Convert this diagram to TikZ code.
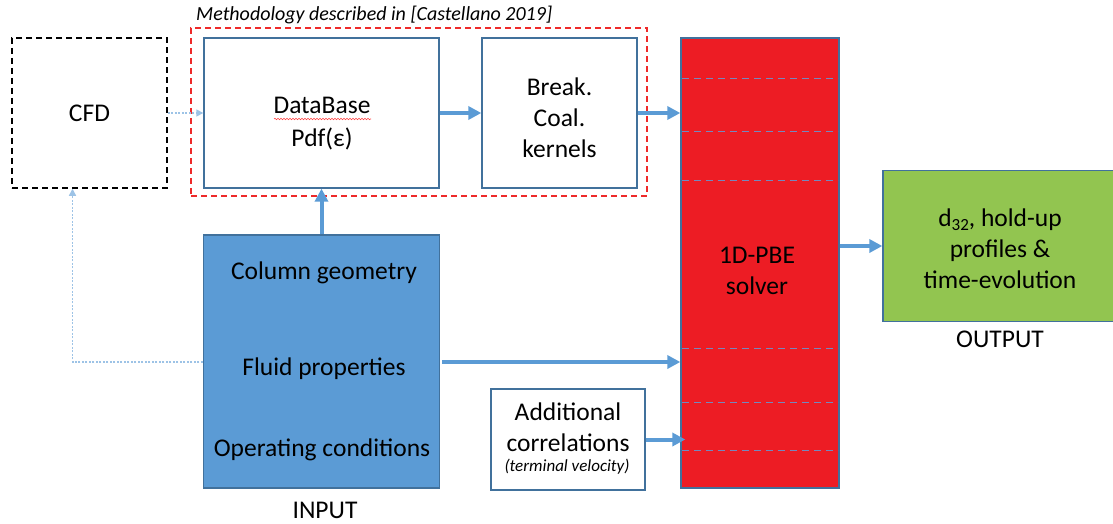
\documentclass[tikz,border=0pt]{standalone}
\usepackage{fontspec}
\setmainfont{Carlito}
\usetikzlibrary{arrows.meta,decorations.pathmorphing}
\definecolor{bblue}{HTML}{5B9BD5}
\definecolor{bborder}{HTML}{41719C}
\definecolor{sred}{HTML}{ED1C24}
\definecolor{ogreen}{HTML}{92C550}
\definecolor{lblue}{HTML}{9DC3E6}
\definecolor{fred}{HTML}{EE2A2A}
\definecolor{sdash}{HTML}{7588BE}
\tikzset{
  box/.style={draw=bborder, line width=1.3pt, rectangle, inner sep=0pt},
  txt/.style={font=\fontsize{25.5}{31}\selectfont, align=center, inner sep=0pt},
  bigarrow/.style={draw=bblue, line width=4pt, -{Triangle[length=13pt,width=13pt]}},
  dotarrow/.style={draw=lblue, line width=1.3pt, dash pattern=on 2pt off 1.5pt, -{Triangle[length=7pt,width=7pt]}},
  soldash/.style={draw=sdash, line width=1pt, dash pattern=on 7pt off 5pt},
}
\begin{document}
\begin{tikzpicture}[x=1pt,y=-1pt]
\useasboundingbox (0,0) rectangle (1113,524);
% methodology frame
\node[draw=fred, line width=1.5pt, dash pattern=on 6pt off 4pt, minimum width=456pt, minimum height=168pt, inner sep=0pt] (meth) at (419,112) {};
\node[font=\fontsize{20}{24}\selectfont\itshape, anchor=west, inner sep=0pt] (mtitle) at (196,15) {Methodology described in [Castellano 2019]};
% CFD
\node[box, draw=black, line width=1.5pt, dash pattern=on 6pt off 4pt, minimum width=155pt, minimum height=150pt] (cfd) at (89.5,113) {};
\node[txt] (cfdt) at (cfd) {CFD};
% DataBase
\node[box, minimum width=235pt, minimum height=150pt] (dbb) at (321.5,113) {};
\node[txt, font=\fontsize{25.5}{33}\selectfont] (dbt) at (322,124) {DataBase\\Pdf(ε)};
\draw[red!75, line width=0.6pt, decorate, decoration={snake, amplitude=0.7pt, segment length=3pt}] (274,119) -- (371,119);
% Break
\node[box, minimum width=155pt, minimum height=150pt] (brk) at (559.5,113) {};
\node[txt] (brkt) at (559.5,118) {Break.\\Coal.\\kernels};
% solver
\node[box, fill=sred, minimum width=158pt, minimum height=450pt] (sol) at (760,263) {};
\foreach \yy in {79,132,180,348,402,450}
  \draw[soldash] (682,\yy) -- (838,\yy);
\node[txt] (solt) at (757,271) {1D-PBE\\solver};
% output
\node[box, fill=ogreen, minimum width=232pt, minimum height=151pt] (out) at (999,246) {};
\node[txt] (outt) at (1000,249) {d{\fontsize{17}{17}\selectfont\raisebox{-4pt}{32}}, hold-up\\profiles \&\\time-evolution};
\node[txt] (outl) at (1000,339) {OUTPUT};
% input
\node[box, fill=bblue, minimum width=236pt, minimum height=253pt] (inp) at (321.5,361.5) {};
\node[txt] (cg) at (324,273) {Column geometry};
\node[txt] (fp) at (324,369) {Fluid properties};
\node[txt] (oc) at (322,450) {Operating conditions};
\node[txt] (inl) at (325,510) {INPUT};
\coordinate (fpy) at (321.5,362);
% additional
\node[box, minimum width=154pt, minimum height=101pt] (add) at (568,439.5) {};
\node[txt] (addt) at (568,427) {Additional\\correlations};
\node[font=\fontsize{17}{20}\selectfont\itshape, inner sep=0pt] (tv) at (567,467) {(terminal velocity)};
% arrows
\draw[bigarrow] (dbb.east) -- (brk.west);
\draw[bigarrow] (brk.east) -- (brk.east -| sol.west);
\draw[bigarrow] (inp.north) -- (dbb.south);
\draw[bigarrow] (sol.east |- out.west) -- (out.west);
\draw[bigarrow] ([xshift=2pt]inp.east |- fpy) -- (sol.west |- fpy);
\draw[bigarrow] (add.east) -- ([xshift=5pt]add.east -| sol.west);
\draw[dotarrow] (cfd.east) -- (dbb.west);
\draw[dotarrow] (inp.west |- fpy) -| ([xshift=-17pt]cfd.south);
\end{tikzpicture}
\end{document}
